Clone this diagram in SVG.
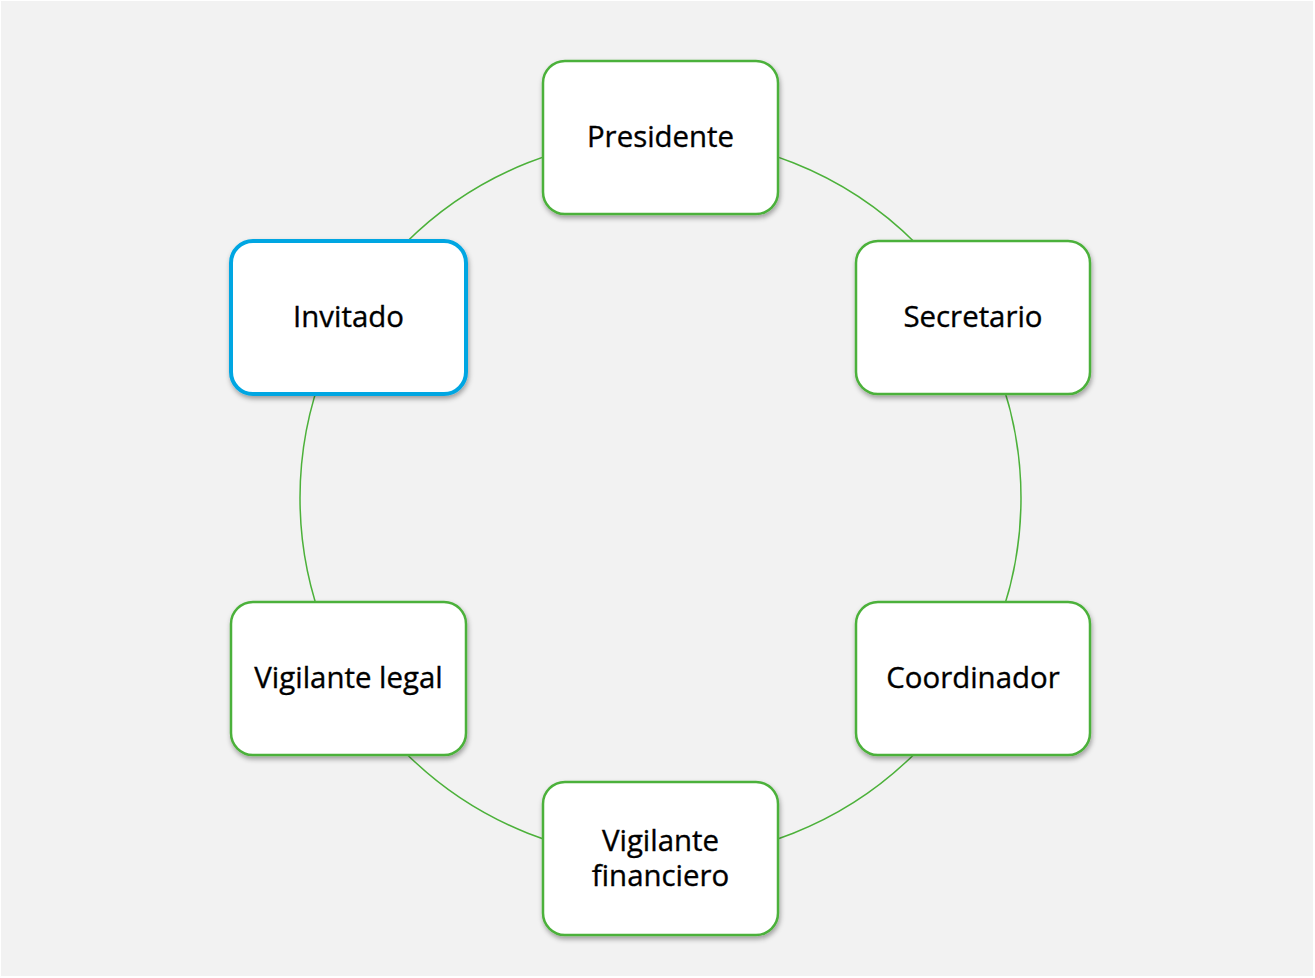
<svg xmlns="http://www.w3.org/2000/svg" width="1315" height="978" viewBox="0 0 1315 978">
<defs>
<filter id="sh" x="-20%" y="-20%" width="140%" height="150%">
<feDropShadow dx="1" dy="3" stdDeviation="2.5" flood-color="#000" flood-opacity="0.35"/>
</filter>
<style>
.node rect{fill:#fff;stroke:#4cb13a;stroke-width:2.5;filter:url(#sh)}
#invitado rect{stroke:#00a6e2;stroke-width:4}
text{font-family:"Open Sans","Noto Sans",sans-serif;font-size:29.4px;font-weight:400;fill:#000;stroke:#000;stroke-width:0.35;text-anchor:middle}
.conn{fill:none;stroke:#4cb13a;stroke-width:1.5}
</style>
</defs>
<rect x="1" y="1" width="1312" height="975" fill="#f2f2f2"/>
<g id="connectors">
<circle class="conn" cx="660.5" cy="498" r="360.5"/>
</g>
<g id="presidente" class="node">
<rect x="543" y="61" width="235" height="153" rx="22"/>
<text x="660.5" y="147">Presidente</text>
</g>
<g id="secretario" class="node">
<rect x="856" y="241" width="234" height="153" rx="22"/>
<text x="973" y="327">Secretario</text>
</g>
<g id="coordinador" class="node">
<rect x="856" y="602" width="234" height="153" rx="22"/>
<text x="973" y="688">Coordinador</text>
</g>
<g id="vigilante-financiero" class="node">
<rect x="543" y="782" width="235" height="153" rx="22"/>
<text x="660.5" y="851"><tspan x="660.5" y="851">Vigilante</tspan><tspan x="660.5" y="886">financiero</tspan></text>
</g>
<g id="vigilante-legal" class="node">
<rect x="231" y="602" width="235" height="153" rx="22"/>
<text x="348.5" y="688">Vigilante legal</text>
</g>
<g id="invitado" class="node">
<rect x="231" y="241" width="235" height="153" rx="22"/>
<text x="348.5" y="327">Invitado</text>
</g>
</svg>
